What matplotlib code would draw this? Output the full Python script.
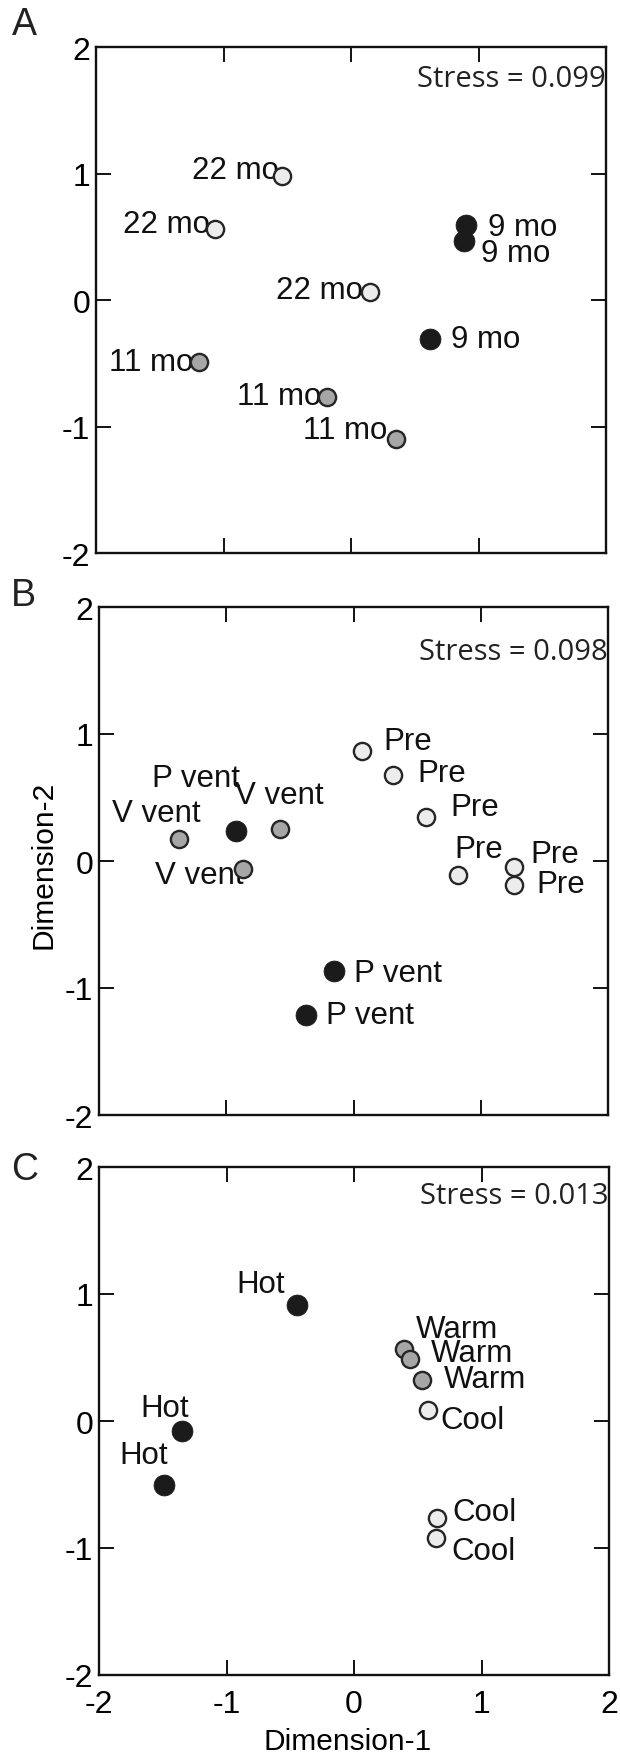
import matplotlib
matplotlib.use("Agg")
import matplotlib.pyplot as plt

plt.rcParams['font.family'] = ['Liberation Sans', 'DejaVu Sans']

# ---------------- data ----------------
# Panel A
a_labels = ["22 mo", "22 mo", "22 mo", "9 mo", "9 mo", "9 mo", "11 mo", "11 mo", "11 mo"]
a_x = [-0.54, -1.07, 0.15, 0.90, 0.89, 0.62, -1.19, -0.19, 0.35]
a_y = [0.98, 0.56, 0.06, 0.59, 0.47, -0.31, -0.49, -0.77, -1.10]
a_group = ["light", "light", "light", "black", "black", "black", "gray", "gray", "gray"]
a_stress = "Stress = 0.099"

# Panel B
b_labels = ["Pre", "Pre", "Pre", "Pre", "Pre", "Pre",
            "V vent", "P vent", "V vent", "V vent", "P vent", "P vent"]
b_x = [0.07, 0.31, 0.57, 0.82, 1.26, 1.26, -1.37, -0.92, -0.58, -0.87, -0.15, -0.37]
b_y = [0.87, 0.68, 0.35, -0.11, -0.05, -0.19, 0.17, 0.24, 0.25, -0.06, -0.87, -1.21]
b_group = ["light"] * 6 + ["gray", "black", "gray", "gray", "black", "black"]
b_stress = "Stress = 0.098"

# Panel C
c_labels = ["Hot", "Hot", "Hot", "Warm", "Warm", "Warm", "Cool", "Cool", "Cool"]
c_x = [-0.45, -1.35, -1.49, 0.39, 0.44, 0.53, 0.58, 0.65, 0.64]
c_y = [0.91, -0.08, -0.50, 0.57, 0.49, 0.32, 0.09, -0.76, -0.92]
c_group = ["black"] * 3 + ["gray"] * 3 + ["light"] * 3
c_stress = "Stress = 0.013"

tick_vals = [-2, -1, 0, 1, 2]
tick_text = ["-2", "-1", "0", "1", "2"]

# ---------------- layout / styles ----------------
# label placement: (dx px, dy px, ha)
a_off = [(-3, 6, 'right'), (-5, 5, 'right'), (-7, 2, 'right'),
         (22, -1.5, 'left'), (17, -12.5, 'left'), (21, 0, 'left'),
         (-6, 0, 'right'), (-5, 1.5, 'right'), (-8, 9, 'right')]
b_off = [(21, 10, 'left'), (24, 2, 'left'), (24, 10, 'left'), (-3, 26, 'left'),
         (16.5, 13, 'left'), (23, 1.5, 'left'),
         (-23, 26, 'center'), (-40, 53, 'center'), (0, 34, 'center'), (1, -6, 'right'),
         (20, -1.5, 'left'), (19.5, 0, 'left')]
c_off = [(-12, 21, 'right'), (7, 23, 'right'), (4, 29, 'right'),
         (12, 20, 'left'), (21, 6, 'left'), (22, 1.5, 'left'),
         (12.5, -10.5, 'left'), (15, 5.5, 'left'), (16, -13, 'left')]

styles = {
    "black": dict(mfc="#1b1b1b", mec="#1b1b1b", ms=15.0, mew=0.6),
    "gray": dict(mfc="#a6a6a6", mec="#262626", ms=12.4, mew=1.7),
    "light": dict(mfc="#ececec", mec="#262626", ms=12.4, mew=1.7),
}

W, H = 620, 1756
fig = plt.figure(figsize=(W / 100, H / 100), dpi=100)


def add_axes(left, right, top, bottom):
    return fig.add_axes([left / W, 1 - bottom / H, (right - left) / W, (bottom - top) / H])


axA = add_axes(96, 606, 48, 554)
axB = add_axes(99, 608, 608, 1116)
axC = add_axes(99, 609, 1168, 1676)

panels = [
    (axA, a_x, a_y, a_labels, a_group, a_off, a_stress, 0.937, "A", (24, 25)),
    (axB, b_x, b_y, b_labels, b_group, b_off, b_stress, 0.913, "B", (23, 596)),
    (axC, c_x, c_y, c_labels, c_group, c_off, c_stress, 0.943, "C", (25, 1170)),
]

for i, (ax, xs, ys, labs, grp, offs, stress, sy, letter, lpos) in enumerate(panels):
    ax.set_xlim(-2, 2)
    ax.set_ylim(-2, 2)
    for sp in ax.spines.values():
        sp.set_linewidth(1.7)
        sp.set_color("#111111")
    ax.set_xticks(tick_vals)
    ax.set_yticks(tick_vals)
    ax.set_yticklabels(tick_text)
    if i == 2:
        ax.set_xticklabels(tick_text)
    else:
        ax.set_xticklabels([])
    ax.tick_params(direction='in', length=11, width=1.4, color="#111111",
                   top=True, right=True, labelsize=23, pad=4)
    ax.tick_params(axis='x', pad=10)

    for x, y, lab, g, (dx, dy, ha) in zip(xs, ys, labs, grp, offs):
        ax.annotate(lab, xy=(x, y), xytext=(dx, dy), textcoords='offset pixels',
                    ha=ha, va='center', fontsize=22.5, color="#111111", zorder=2)
    for x, y, g in zip(xs, ys, grp):
        ax.plot([x], [y], marker='o', linestyle='none', zorder=3, **styles[g])

    ax.text(1.0, sy, stress, transform=ax.transAxes, ha='right', va='center',
            fontsize=21, family=['Open Sans', 'DejaVu Sans'], color="#222222", zorder=4)

    fig.text(lpos[0] / W, 1 - lpos[1] / H, letter, ha='center', va='center',
             fontsize=27, color="#222222")

axB.set_ylabel("Dimension-2", fontsize=21.5, va='center', ha='center')
axB.yaxis.set_label_coords(-0.11, 0.494)
axC.set_xlabel("Dimension-1", fontsize=21.5, va='center', ha='center')
axC.xaxis.set_label_coords(0.487, -0.13)

fig.savefig("out.png", dpi=100)
